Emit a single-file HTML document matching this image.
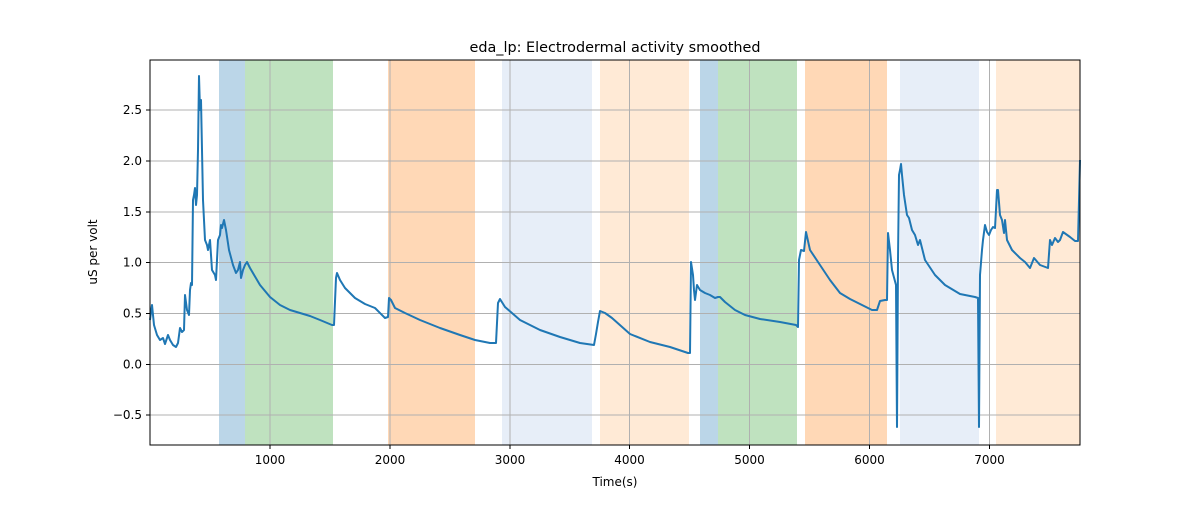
<!DOCTYPE html>
<html><head><meta charset="utf-8"><style>body{margin:0;background:#fff}svg text{font-family:"DejaVu Sans","Liberation Sans",sans-serif;fill:#000}</style></head><body>
<svg width="1200" height="500" xmlns="http://www.w3.org/2000/svg">
<rect width="1200" height="500" fill="#fff"/>
<g>
<rect x="219" y="60" width="26" height="385" fill="#1f77b4" fill-opacity="0.3"/>
<rect x="245" y="60" width="88" height="385" fill="#2ca02c" fill-opacity="0.3"/>
<rect x="388" y="60" width="87" height="385" fill="#ff7f0e" fill-opacity="0.3"/>
<rect x="502" y="60" width="90" height="385" fill="#aec7e8" fill-opacity="0.3"/>
<rect x="600" y="60" width="89" height="385" fill="#ffbb78" fill-opacity="0.3"/>
<rect x="700" y="60" width="18" height="385" fill="#1f77b4" fill-opacity="0.3"/>
<rect x="718" y="60" width="79" height="385" fill="#2ca02c" fill-opacity="0.3"/>
<rect x="805" y="60" width="82" height="385" fill="#ff7f0e" fill-opacity="0.3"/>
<rect x="900" y="60" width="79" height="385" fill="#aec7e8" fill-opacity="0.3"/>
<rect x="996" y="60" width="84" height="385" fill="#ffbb78" fill-opacity="0.3"/>
</g>
<g stroke="#b0b0b0" stroke-width="1">
<line x1="270" y1="60" x2="270" y2="445"/><line x1="390" y1="60" x2="390" y2="445"/><line x1="510" y1="60" x2="510" y2="445"/><line x1="629.5" y1="60" x2="629.5" y2="445"/><line x1="749.5" y1="60" x2="749.5" y2="445"/><line x1="869.5" y1="60" x2="869.5" y2="445"/><line x1="989.5" y1="60" x2="989.5" y2="445"/>
<line x1="150" y1="415" x2="1080" y2="415"/><line x1="150" y1="364.5" x2="1080" y2="364.5"/><line x1="150" y1="313.5" x2="1080" y2="313.5"/><line x1="150" y1="262.5" x2="1080" y2="262.5"/><line x1="150" y1="212" x2="1080" y2="212"/><line x1="150" y1="161" x2="1080" y2="161"/><line x1="150" y1="110" x2="1080" y2="110"/>
</g>
<polyline fill="none" stroke="#1f77b4" stroke-width="2" stroke-linejoin="round" points="150,320 152,305 154,325 157,335 160,340 163,338 165,344 168,335 170,340 173,345 176,347 178,343 180,328 182,332 184,330 185,295 187,310 189,315 190,290 191,283 192,285 193,200 194,195 195,188 196,205 197,195 198,150 199,76 200,110 201,100 203,200 205,240 207,245 208,250 210,240 212,270 215,275 216,280 218,240 220,235 221,225 222,228 224,220 226,230 229,250 233,265 236,273 238,270 240,262 241,278 243,270 245,265 247,262 250,268 260,285 270,297 280,305 290,310 300,313 310,316 320,320 332,325 334,325 336,278 337,273 340,280 345,288 355,298 365,304 375,308 385,318 388,317 389,298 391,300 395,308 405,313 420,320 440,328 460,335 475,340 490,343 496,343 498,303 500,299 505,307 520,320 540,330 560,337 580,343 594,345 596,334 598,322 600,311 605,313 612,318 630,334 650,342 670,347 688,353 690,353 691,262 693,275 694,290 695,300 697,285 700,290 705,293 710,295 715,298 718,297 720,297 725,302 735,310 745,315 760,319 780,322 796,325 798,327 799,260 801,250 804,251 806,232 810,250 820,265 830,280 840,293 850,299 860,304 872,310 877,310 880,301 885,300 887,300 888,233 890,250 892,270 896,285 897,427 898,260 899,175 900,170 901,164 902,175 904,195 907,215 909,218 912,230 915,235 918,245 920,240 925,260 935,275 945,285 960,294 975,297 978,298 979,427 980,275 982,250 983,240 985,225 987,232 989,235 991,230 993,227 995,228 996,210 997,190 998,190 1000,215 1002,220 1004,233 1005,220 1007,240 1012,250 1020,258 1025,262 1030,268 1032,263 1034,258 1040,265 1048,268 1050,240 1052,245 1055,238 1058,242 1060,240 1063,232 1070,237 1075,241 1078,241 1080,160"/>
<rect x="150" y="60" width="930" height="385" fill="none" stroke="#000" stroke-width="1"/>
<g stroke="#000" stroke-width="1">
<line x1="270" y1="445" x2="270" y2="449"/><line x1="390" y1="445" x2="390" y2="449"/><line x1="510" y1="445" x2="510" y2="449"/><line x1="629.5" y1="445" x2="629.5" y2="449"/><line x1="749.5" y1="445" x2="749.5" y2="449"/><line x1="869.5" y1="445" x2="869.5" y2="449"/><line x1="989.5" y1="445" x2="989.5" y2="449"/>
<line x1="146" y1="415" x2="150" y2="415"/><line x1="146" y1="364.5" x2="150" y2="364.5"/><line x1="146" y1="313.5" x2="150" y2="313.5"/><line x1="146" y1="262.5" x2="150" y2="262.5"/><line x1="146" y1="212" x2="150" y2="212"/><line x1="146" y1="161" x2="150" y2="161"/><line x1="146" y1="110" x2="150" y2="110"/>
</g>
<g font-size="12" text-anchor="middle">
<text x="270" y="464">1000</text><text x="390" y="464">2000</text><text x="510" y="464">3000</text><text x="629.5" y="464">4000</text><text x="749.5" y="464">5000</text><text x="869.5" y="464">6000</text><text x="989.5" y="464">7000</text>
</g>
<g font-size="12" text-anchor="end">
<text x="142" y="419">−0.5</text><text x="142" y="368.5">0.0</text><text x="142" y="317.5">0.5</text><text x="142" y="266.5">1.0</text><text x="142" y="216">1.5</text><text x="142" y="165">2.0</text><text x="142" y="114">2.5</text>
</g>
<text x="615" y="486" font-size="12" text-anchor="middle">Time(s)</text>
<text transform="translate(97,252) rotate(-90)" font-size="12" text-anchor="middle">uS per volt</text>
<text x="615" y="52" font-size="14.4" text-anchor="middle">eda_lp: Electrodermal activity smoothed</text>
</svg>
</body></html>
